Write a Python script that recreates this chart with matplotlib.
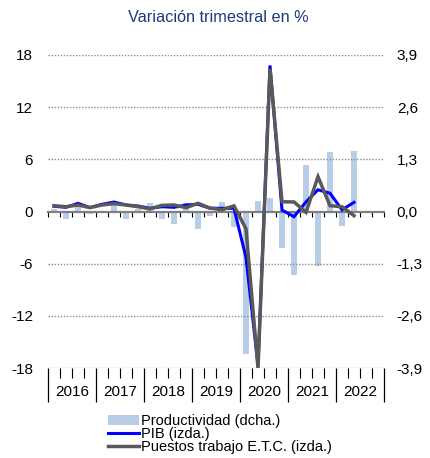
import matplotlib
matplotlib.use("Agg")
import matplotlib.pyplot as plt
from matplotlib.ticker import FixedLocator, FuncFormatter, NullFormatter
from matplotlib.patches import Patch
from matplotlib.lines import Line2D
import numpy as np

plt.rcParams['font.family'] = ['Liberation Sans', 'DejaVu Sans']
plt.rcParams['axes.unicode_minus'] = False

years = ['2016', '2017', '2018', '2019', '2020', '2021', '2022']
# quarterly values, 2016 Q1 .. 2022 Q2
pib = [0.6, 0.48, 0.94, 0.45, 0.83, 1.09, 0.75, 0.63, 0.37, 0.55, 0.48, 0.75,
       0.83, 0.37, 0.37, 0.37, -5.3, -17.7, 16.8, 0.17, -0.6, 1.1, 2.5, 2.1,
       0.2, 1.05]
empleo = [0.67, 0.55, 0.75, 0.45, 0.75, 0.9, 0.75, 0.55, 0.3, 0.71, 0.75, 0.44,
          0.94, 0.4, 0.2, 0.65, -2.0, -18.0, 16.4, 1.12, 1.1, -0.1, 4.0, 0.67,
          0.55, -0.48]
productividad = [0.05, -0.19, 0.14, -0.05, -0.03, 0.22, -0.19, 0.05, 0.22, -0.19,
                 -0.32, 0.2, -0.44, -0.1, 0.24, -0.38, -3.55, 0.27, 0.34, -0.9,
                 -1.58, 1.16, -1.36, 1.49, -0.36, 1.52]
left_ticks = [-18, -12, -6, 0, 6, 12, 18]
right_ticks = [-3.9, -2.6, -1.3, 0.0, 1.3, 2.6, 3.9]

n_slots = 4 * len(years)
x = np.arange(len(pib))

fig = plt.figure(figsize=(4.30, 4.58), dpi=100)
ax = fig.add_axes([48/430, 1-368/458, (384-48)/430, (368-55)/458])
ax2 = ax.twinx()

bar_color = '#b8cde6'
blue = '#0000ff'
gray = '#595959'

ax2.bar(x, productividad, width=0.55, color=bar_color, zorder=1)
ax2.set_ylim(-3.9, 3.9)

ax.set_zorder(ax2.get_zorder() + 1)
ax.patch.set_visible(False)

ax.plot(x, pib, color=blue, lw=2.2, zorder=3, solid_joinstyle='miter')
ax.plot(x, empleo, color=gray, lw=2.5, zorder=4, solid_joinstyle='miter')
ax.set_ylim(-18, 18)
ax.set_xlim(-0.5, n_slots - 0.5)

# grid
for t in left_ticks:
    if t != 0:
        ax.axhline(t, color='#8c8c8c', lw=1.0, ls=(0, (1, 1.2)), zorder=0)

# spines
for s in ['top', 'left', 'right']:
    ax.spines[s].set_visible(False)
    ax2.spines[s].set_visible(False)
ax2.spines['bottom'].set_visible(False)
ax.spines['bottom'].set_position(('data', 0))
ax.spines['bottom'].set_color('#808080')
ax.spines['bottom'].set_linewidth(1.6)
ax.spines['bottom'].set_zorder(2)

bounds = np.arange(-0.5, n_slots, 1.0)
ax.xaxis.set_major_locator(FixedLocator(bounds))
ax.xaxis.set_major_formatter(NullFormatter())
ax.tick_params(axis='x', direction='out', length=3.6, width=0.8, color='black')

# left y axis
ax.set_yticks(left_ticks)
ax.set_yticklabels([str(t) for t in left_ticks])
ax.tick_params(axis='y', length=0, pad=10.8, labelsize=11)

# right y axis
ax2.set_yticks(right_ticks)
ax2.yaxis.set_major_formatter(FuncFormatter(lambda v, p: f"{v:.1f}".replace('.', ',')))
ax2.tick_params(axis='y', length=0, pad=9.2, labelsize=11)

# bottom year axis
sec = ax.secondary_xaxis('bottom')
sec.spines['bottom'].set_visible(False)
year_bounds = np.arange(-0.5, n_slots, 4.0)
sec.xaxis.set_major_locator(FixedLocator(year_bounds))
sec.xaxis.set_minor_locator(FixedLocator(bounds))
sec.xaxis.set_major_formatter(NullFormatter())
sec.tick_params(axis='x', which='major', direction='out', length=24.5, width=0.9, color='black')
sec.tick_params(axis='x', which='minor', direction='out', length=7.2, width=0.8, color='black')

sec2 = ax.secondary_xaxis('bottom')
sec2.spines['bottom'].set_visible(False)
year_centers = np.arange(len(years)) * 4 + 1.5
sec2.set_xticks(year_centers)
sec2.set_xticklabels(years)
sec2.tick_params(axis='x', length=0, pad=12.5, labelsize=11)

fig.text(218/430, 1-18/458, 'Variación trimestral en %', ha='center', va='center',
         fontsize=11.7, color='#1f3a7a')

handles = [Patch(facecolor=bar_color, edgecolor='none'),
           Line2D([], [], color=blue, lw=2.2),
           Line2D([], [], color=gray, lw=2.5)]
labels = ['Productividad (dcha.)', 'PIB (izda.)', 'Puestos trabajo E.T.C. (izda.)']
fig.legend(handles, labels, loc='upper left', bbox_to_anchor=(108/430, 1-414/458),
           frameon=False, fontsize=10.5, handlelength=2.1, handleheight=0.7,
           handletextpad=0.15, labelspacing=-0.08, borderaxespad=0, borderpad=0)

fig.savefig('out.png', dpi=100)
